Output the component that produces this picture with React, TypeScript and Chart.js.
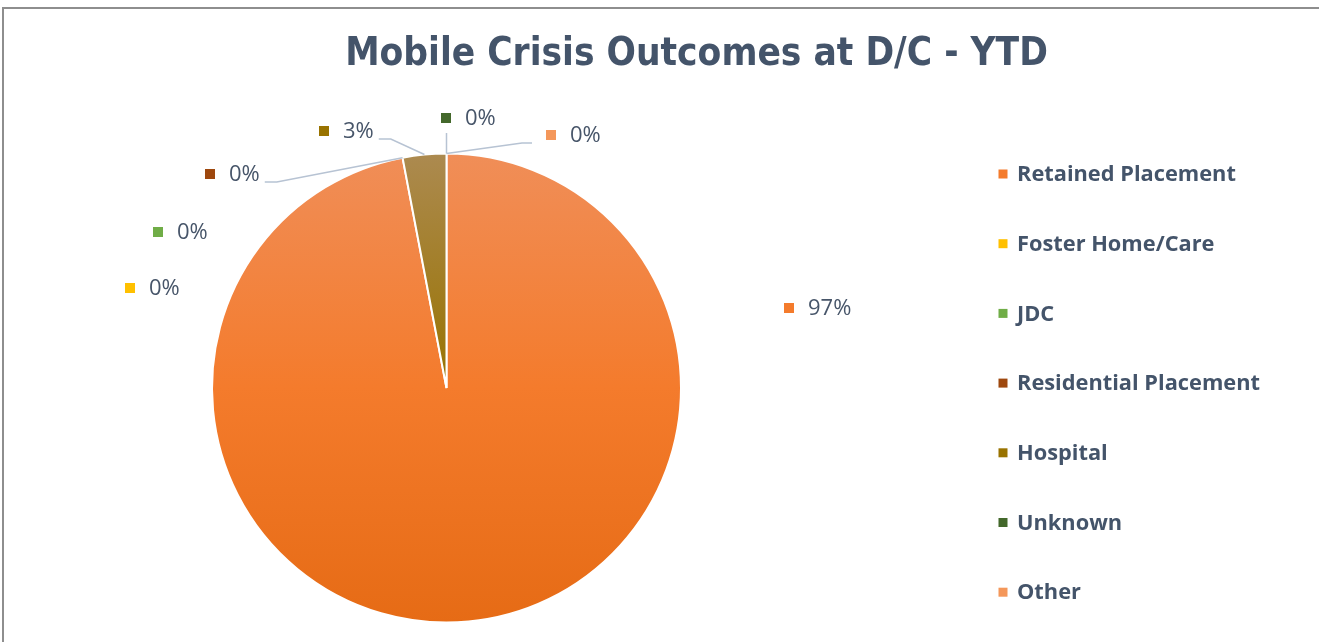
import React, { useEffect, useRef } from "react";
import { Chart, registerables } from "chart.js";

Chart.register(...registerables);

const categories = [
  "Retained Placement",
  "Foster Home/Care",
  "JDC",
  "Residential Placement",
  "Hospital",
  "Unknown",
  "Other",
];
const values = [97, 0, 0, 0, 3, 0, 0];
const percentLabels = ["97%", "0%", "0%", "0%", "3%", "0%", "0%"];
const sliceColors = ["#F47B2C", "#FFC000", "#70AD47", "#9E480E", "#997300", "#43682B", "#F4975A"];
const gradientTop = ["#F08E58", "#FFD24D", "#8DC06C", "#B5622A", "#AC8A50", "#5C8043", "#F7AD7D"];
const gradientBottom = ["#E66B15", "#F0B000", "#62A03B", "#8A3C08", "#8A6500", "#395A24", "#EC8648"];
const titleText = "Mobile Crisis Outcomes at D/C - YTD";

// label placement (page pixels): marker centre + leader style
const labelLayout = [
  { x: 789, y: 308, leader: "none" },
  { x: 130, y: 288, leader: "none" },
  { x: 158, y: 232, leader: "none" },
  { x: 210, y: 174, leader: "left" },
  { x: 324, y: 131, leader: "left" },
  { x: 446, y: 118, leader: "up" },
  { x: 551, y: 135, leader: "right" },
];

const TEXT_COLOR = "#44546A";
const LABEL_COLOR = "#475569";
const LEADER_COLOR = "#B7C3D3";

function fitFont(ctx: CanvasRenderingContext2D, text: string, weight: string, family: string, base: number, target: number) {
  ctx.font = `${weight} ${base}px ${family}`;
  const w = ctx.measureText(text).width;
  const size = base * (target / w);
  return `${weight} ${size.toFixed(2)}px ${family}`;
}

const overlayPlugin = {
  id: "overlay",
  afterDraw(chart: any) {
    const ctx: CanvasRenderingContext2D = chart.ctx;
    ctx.save();
    // title
    ctx.fillStyle = TEXT_COLOR;
    ctx.font = fitFont(ctx, titleText, "bold", "'Liberation Sans Narrow', 'DejaVu Sans Condensed', sans-serif", 40, 703);
    ctx.textAlign = "center";
    ctx.textBaseline = "alphabetic";
    ctx.fillText(titleText, 696.5, 65);

    // data labels
    const meta = chart.getDatasetMeta(0);
    ctx.textBaseline = "middle";
    ctx.textAlign = "left";
    ctx.font = "22px 'Open Sans', sans-serif";
    labelLayout.forEach((lay, i) => {
      const arc: any = meta.data[i];
      const p = arc.getProps(["x", "y", "startAngle", "endAngle", "outerRadius"], true);
      const a = (p.startAngle + p.endAngle) / 2;
      const ex = p.x + Math.cos(a) * p.outerRadius;
      const ey = p.y + Math.sin(a) * p.outerRadius;
      // marker
      ctx.fillStyle = sliceColors[i];
      ctx.fillRect(lay.x - 5, lay.y - 5, 10, 10);
      ctx.fillStyle = LABEL_COLOR;
      const tx = lay.x + 19;
      ctx.fillText(percentLabels[i], tx, lay.y + 1);
      const tw = ctx.measureText(percentLabels[i]).width;
      ctx.strokeStyle = LEADER_COLOR;
      ctx.lineWidth = 1.5;
      ctx.beginPath();
      if (lay.leader === "left") {
        const sx = tx + tw + 5;
        const sy = lay.y + 8;
        ctx.moveTo(sx, sy);
        ctx.lineTo(sx + 12, sy);
        ctx.lineTo(ex, ey);
        ctx.stroke();
      } else if (lay.leader === "right") {
        const sx = lay.x - 19;
        const sy = lay.y + 8;
        ctx.moveTo(sx, sy);
        ctx.lineTo(sx - 10, sy);
        ctx.lineTo(ex, ey);
        ctx.stroke();
      } else if (lay.leader === "up") {
        ctx.moveTo(ex, lay.y + 15);
        ctx.lineTo(ex, ey);
        ctx.stroke();
      }
    });

    // legend
    ctx.font = "bold 21.8px 'Open Sans', sans-serif";
    categories.forEach((c, i) => {
      const y = 174 + i * 69.7;
      ctx.fillStyle = sliceColors[i];
      ctx.fillRect(998.5, y - 4.5, 9, 9);
      ctx.fillStyle = TEXT_COLOR;
      ctx.fillText(c, 1017, y + 1);
    });
    ctx.restore();
  },
};

export default function App() {
  const canvasRef = useRef<HTMLCanvasElement | null>(null);

  useEffect(() => {
    const canvas = canvasRef.current;
    if (!canvas) return;
    const chart = new Chart(canvas, {
      type: "pie",
      data: {
        labels: categories,
        datasets: [
          {
            data: values,
            backgroundColor: (c: any) => {
              const ch = c.chart;
              const area = ch.chartArea;
              const i = c.dataIndex;
              if (!area || i === undefined) return sliceColors[i ?? 0];
              const g = ch.ctx.createLinearGradient(0, area.top, 0, area.bottom);
              g.addColorStop(0, gradientTop[i]);
              g.addColorStop(0.5, sliceColors[i]);
              g.addColorStop(1, gradientBottom[i]);
              return g;
            },
            borderColor: "#FFFFFF",
            borderWidth: 2,
          },
        ],
      },
      options: {
        responsive: false,
        animation: false,
        layout: { padding: { top: 152.5, bottom: 18.5, left: 211, right: 637 } },
        plugins: {
          legend: { display: false },
          title: { display: false },
          tooltip: { enabled: false },
        },
      },
      plugins: [overlayPlugin],
    });
    return () => chart.destroy();
  }, []);

  return (
    <div style={{ position: "absolute", left: 0, top: 0, width: 1319, height: 642, background: "#fff", overflow: "hidden" }}>
      <canvas ref={canvasRef} width={1319} height={642} style={{ position: "absolute", left: 0, top: 0 }} />
      <div style={{ position: "absolute", left: 2, top: 7, width: 1317, height: 2, background: "#8E8E8E" }} />
      <div style={{ position: "absolute", left: 2, top: 7, width: 2, height: 635, background: "#8E8E8E" }} />
    </div>
  );
}
